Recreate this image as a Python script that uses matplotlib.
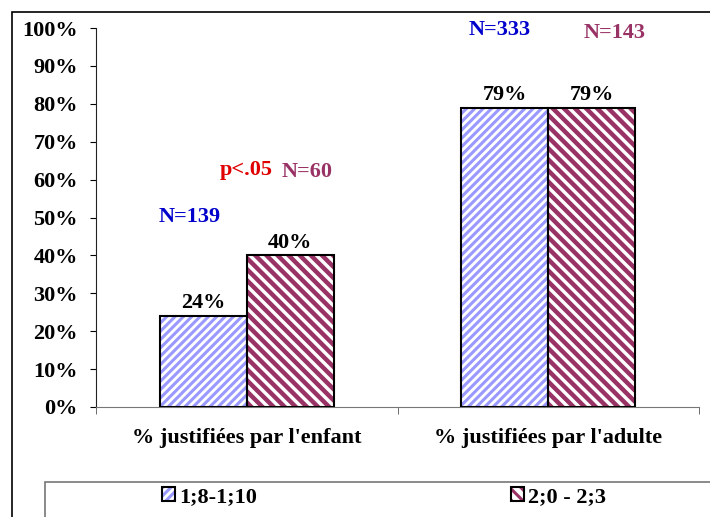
import matplotlib
matplotlib.use("Agg")
import matplotlib.pyplot as plt
from matplotlib.patches import Rectangle
import numpy as np

categories = ["% justifiées par l'enfant", "% justifiées par l'adulte"]
series_names = ["1;8-1;10", "2;0 - 2;3"]
values_young = [24, 79]
values_old = [40, 79]
n_young = ["N=139", "N=333"]
n_old = ["N=60", "N=143"]
y_ticks = list(range(0, 101, 10))

plt.rcParams['font.family'] = ['Liberation Serif', 'DejaVu Serif']
plt.rcParams['font.weight'] = 'bold'

blue = "#9999FF"
maroon = "#993366"
fs = 16

fig = plt.figure(figsize=(7.10, 5.17), dpi=100)
ax = fig.add_axes([96 / 710, 110 / 517, 603 / 710, 379 / 517])

x = np.arange(len(categories))
w = 0.289

def hatched_bars(xpos, vals, color, hatch, hlw):
    bars = ax.bar(xpos, vals, w, color="white", edgecolor=color, linewidth=0, hatch=hatch, zorder=2)
    for b in bars:
        if hasattr(b, "set_hatch_linewidth"):
            b.set_hatch_linewidth(hlw)
    outline = ax.bar(xpos, vals, w, fill=False, edgecolor="black", linewidth=1.5, zorder=3)
    return bars, outline

plt.rcParams['hatch.linewidth'] = 2.2
b1, o1 = hatched_bars(x - w / 2, values_young, blue, "////", 2.2)
b2, o2 = hatched_bars(x + w / 2, values_old, maroon, "\\\\\\", 3.2)

for xpos, vals in [(x - w / 2, values_young), (x + w / 2, values_old)]:
    for xx, v in zip(xpos, vals):
        ax.annotate("%d%%" % v, (xx, v), xytext=(0, 2), textcoords="offset points",
                    ha="center", va="bottom", fontsize=fs, fontweight="bold")

# N labels and significance
ax.text(-0.19, 50, n_young[0], color="#0000CC", fontsize=fs, ha="center", va="center")
ax.text(0.0, 62.5, "p<.05", color="#E00000", fontsize=fs, ha="center", va="center")
ax.text(0.2, 62, n_old[0], color=maroon, fontsize=fs, ha="center", va="center")
ax.text(0.84, 99.5, n_young[1], color="#0000CC", fontsize=fs, ha="center", va="center")
ax.text(1.22, 98.7, n_old[1], color=maroon, fontsize=fs, ha="center", va="center")

ax.set_xlim(-0.5, 1.5)
ax.set_ylim(0, 100)
ax.set_yticks(y_ticks)
ax.set_yticklabels(["%d%%" % t for t in y_ticks], fontsize=fs, fontweight="bold")
ax.set_xticks(x)
ax.set_xticklabels(categories, fontsize=fs, fontweight="bold")
ax.set_xticks([-0.5, 0.5, 1.5], minor=True)
ax.tick_params(axis="x", which="major", length=0, pad=15)
ax.tick_params(axis="x", which="minor", length=5, direction="out", color="#555555")
ax.tick_params(axis="y", length=4, direction="out", pad=9)
ax.spines["top"].set_visible(False)
ax.spines["right"].set_visible(False)
ax.spines["bottom"].set_color("#777777")
ax.spines["left"].set_color("#222222")

# outer border
fig.patches.append(Rectangle((12 / 710, -0.1), 1.2, (517 - 12) / 517 + 0.1,
                             transform=fig.transFigure, fill=False, edgecolor="black", linewidth=1.2))
# legend frame
fig.patches.append(Rectangle((45 / 710, -0.1), 1.2, 35 / 517 + 0.1,
                             transform=fig.transFigure, fill=False, edgecolor="#777777", linewidth=1.2))

leg = fig.legend([(b1[0], o1[0]), (b2[0], o2[0])], series_names, ncol=2, frameon=False, loc="center",
                 bbox_to_anchor=(384 / 710, 20 / 517), fontsize=fs, handlelength=0.6,
                 handleheight=0.6, handletextpad=0.2, columnspacing=11.4)

fig.savefig("out.png", dpi=100)
